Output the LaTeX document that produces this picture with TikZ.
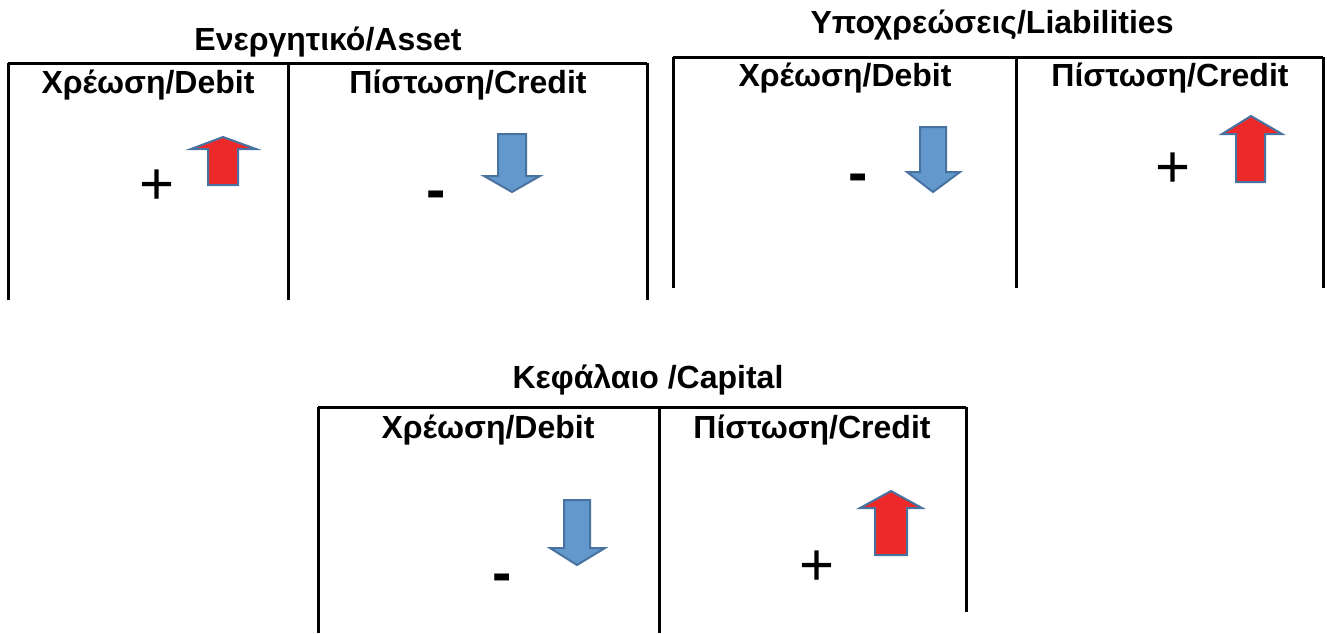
\documentclass[tikz,border=0pt]{standalone}
\usepackage{fontspec}
\setmainfont{Liberation Sans}
\definecolor{upred}{RGB}{237,41,41}
\definecolor{downblue}{RGB}{98,152,204}
\definecolor{arrowedge}{RGB}{72,115,160}
\begin{document}
\begin{tikzpicture}[x=1pt,y=-1pt,
    tline/.style={line width=3pt},
    title/.style={font=\bfseries\fontsize{32}{36}\selectfont},
    head/.style={font=\bfseries\fontsize{32}{36}\selectfont},
    sign/.style={font=\fontsize{60}{64}\selectfont},
    minus/.style={font=\bfseries\fontsize{58}{62}\selectfont},
    uparr/.style={fill=upred,draw=arrowedge,line width=2pt,line join=miter},
    downarr/.style={fill=downblue,draw=arrowedge,line width=2pt,line join=miter}]
    \useasboundingbox (0,0) rectangle (1327,633);
    % Asset
    \node[title] (assettitle) at (328,42) {Ενεργητικό/Asset};
    \draw[tline] (8,63) -- (647,63);
    \draw[tline] (8,63) -- (8,300);
    \draw[tline] (288,63) -- (288,300);
    \draw[tline] (647,63) -- (647,300);
    \node[head] (assetdebit) at (148,85) {Χρέωση/Debit};
    \node[head] (assetcredit) at (468,85) {Πίστωση/Credit};
    \node[sign] (assetplus) at (157,187) {+};
    \node[minus] (assetminus) at (436,200) {-};
    \draw[uparr] (208,185) -- (208,149) -- (191,149) -- (223,137) -- (256,149) -- (238,149) -- (238,185) -- cycle;
    \draw[downarr] (498,134) -- (526,134) -- (526,176) -- (540,176) -- (512,192) -- (484,176) -- (498,176) -- cycle;
    % Liabilities
    \node[title] (liabtitle) at (992,25) {Υποχρεώσεις/Liabilities};
    \draw[tline] (673,57) -- (1323,57);
    \draw[tline] (673,57) -- (673,288);
    \draw[tline] (1016,57) -- (1016,288);
    \draw[tline] (1323,57) -- (1323,288);
    \node[head] (liabdebit) at (845,78) {Χρέωση/Debit};
    \node[head] (liabcredit) at (1170,78) {Πίστωση/Credit};
    \node[minus] (liabminus) at (858,183) {-};
    \node[sign] (liabplus) at (1173,170) {+};
    \draw[downarr] (920,127) -- (946,127) -- (946,172) -- (960,172) -- (933,192) -- (907,172) -- (920,172) -- cycle;
    \draw[uparr] (1236,182) -- (1236,134) -- (1222,134) -- (1251,116) -- (1282,134) -- (1265,134) -- (1265,182) -- cycle;
    % Capital
    \node[title] (captitle) at (648,380) {Κεφάλαιο /Capital};
    \draw[tline] (318,407) -- (966,407);
    \draw[tline] (318,407) -- (318,633);
    \draw[tline] (659,407) -- (659,633);
    \draw[tline] (966,407) -- (966,612);
    \node[head] (capdebit) at (488,430) {Χρέωση/Debit};
    \node[head] (capcredit) at (812,430) {Πίστωση/Credit};
    \node[minus] (capminus) at (502,583) {-};
    \node[sign] (capplus) at (817,568) {+};
    \draw[downarr] (564,500) -- (590,500) -- (590,548) -- (605,548) -- (577,565) -- (550,548) -- (564,548) -- cycle;
    \draw[uparr] (875,555) -- (875,508) -- (860,508) -- (891,491) -- (922,508) -- (907,508) -- (907,555) -- cycle;
\end{tikzpicture}
\end{document}
